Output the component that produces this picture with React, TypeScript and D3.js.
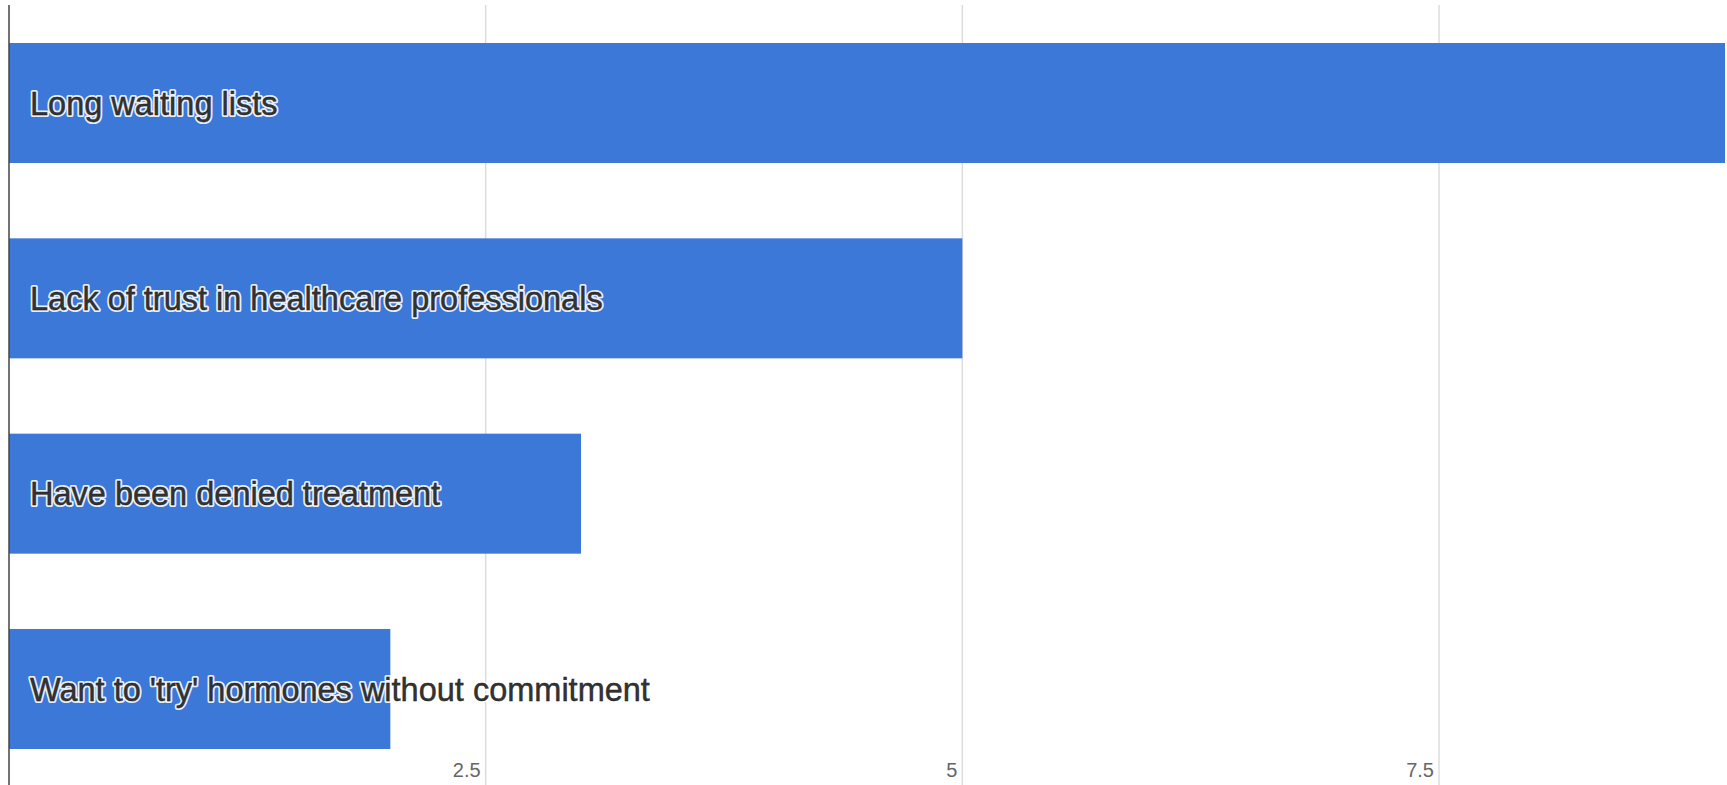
import React from "react";
import * as d3 from "d3";

const categories = [
  "Long waiting lists",
  "Lack of trust in healthcare professionals",
  "Have been denied treatment",
  "Want to 'try' hormones without commitment",
];
const values = [9, 5, 3, 2];
const tickValues = [2.5, 5, 7.5];
const tickLabels = ["2.5", "5", "7.5"];

const W = 1727;
const H = 785;

export default function App() {
  const x = d3.scaleLinear().domain([0, 9]).range([9, 1725]);
  const y = d3
    .scaleBand<string>()
    .domain(categories)
    .range([5, 787])
    .paddingInner(0.3856)
    .paddingOuter(0.1946);
  const plotTop = 5;

  return (
    <div style={{ position: "fixed", left: 0, top: 0, background: "#fff" }}>
      <svg width={W} height={H} style={{ display: "block" }}>
        <rect x={0} y={0} width={W} height={H} fill="#ffffff" />
        {tickValues.map((t) => (
          <line
            key={"g" + t}
            x1={x(t)}
            x2={x(t)}
            y1={plotTop}
            y2={H}
            stroke="#dcdcdc"
            strokeWidth={1.5}
          />
        ))}
        {categories.map((c, i) => (
          <rect
            key={"b" + c}
            x={x(0)}
            y={y(c)!}
            width={x(values[i]) - x(0)}
            height={y.bandwidth()}
            fill="#3c78d8"
          />
        ))}
        <line
          x1={x(0)}
          x2={x(0)}
          y1={plotTop}
          y2={H}
          stroke="#444"
          strokeWidth={1.5}
        />
        {tickValues.map((t, i) => (
          <text
            key={"t" + t}
            x={x(t) - 5}
            y={777}
            textAnchor="end"
            fontFamily="'Liberation Sans', Arial, sans-serif"
            fontSize={20}
            fill="#666"
          >
            {tickLabels[i]}
          </text>
        ))}
        {categories.map((c) => (
          <text
            key={"h" + c}
            x={x(0) + 21}
            y={y(c)! + y.bandwidth() / 2}
            dy="0.36em"
            fontFamily="'Liberation Sans', Arial, sans-serif"
            fontSize={32.5}
            fill="none"
            stroke="#ffffff"
            strokeOpacity={0.9}
            strokeWidth={4}
            strokeLinejoin="round"
          >
            {c}
          </text>
        ))}
        {categories.map((c) => (
          <text
            key={"l" + c}
            x={x(0) + 21}
            y={y(c)! + y.bandwidth() / 2}
            dy="0.36em"
            fontFamily="'Liberation Sans', Arial, sans-serif"
            fontSize={32.5}
            fill="#333333"
            stroke="#1a1a1a"
            strokeWidth={0.4}
          >
            {c}
          </text>
        ))}
      </svg>
    </div>
  );
}
